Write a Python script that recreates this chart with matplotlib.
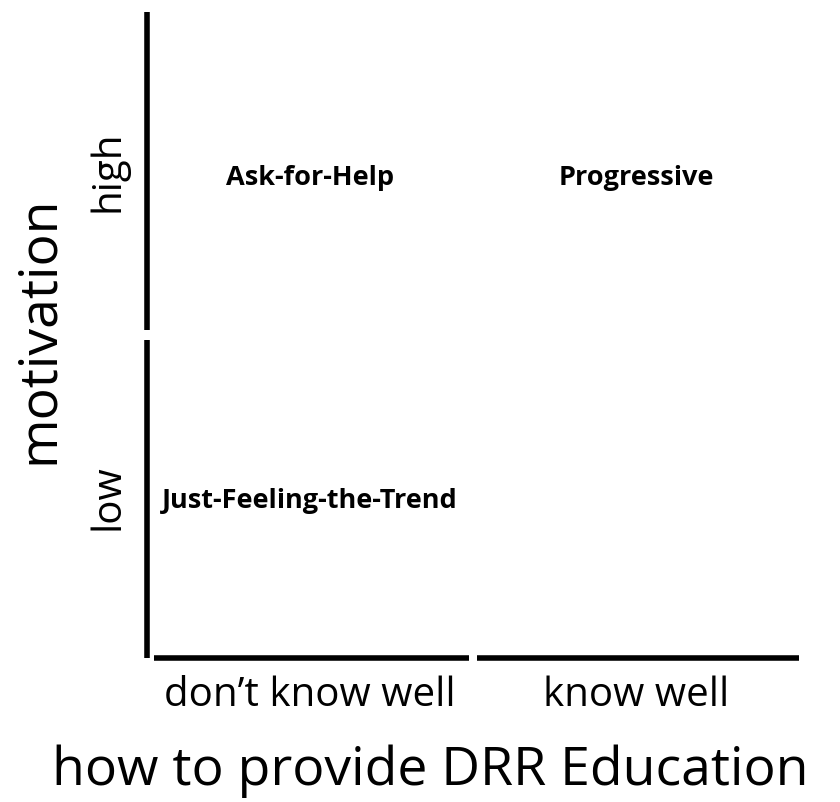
import matplotlib
matplotlib.use('Agg')
import matplotlib.pyplot as plt

plt.rcParams['font.family'] = ['Open Sans', 'DejaVu Sans']

# Achsen-Kategorien und Quadranten
x_cats = ["don\u2019t know well", "know well"]
y_cats = ["low", "high"]
x_title = "how to provide DRR Education"
y_title = "motivation"
quad_names = ["Ask-for-Help", "Progressive", "Just-Feeling-the-Trend"]
quad_col = [0, 1, 0]
quad_row = [1, 1, 0]

W, H = 840, 803
fig = plt.figure(figsize=(W / 100, H / 100), dpi=100)
# Achsenbox in Pixeln: links 147, rechts 799, oben 13, unten 659
ax = fig.add_axes([147 / W, 1 - 659 / H, 652 / W, 646 / H])
ax.set_xlim(0, 2)
ax.set_ylim(0, 2)
ax.axis('off')

lw = 4
gap_v = 0.034
gap_h = 0.025
x0 = 0.021
# linke Achse, zwei Stücke
ax.plot([0, 0], [0, 1 - gap_v / 2], color='black', lw=lw, solid_capstyle='butt', clip_on=False)
ax.plot([0, 0], [1 + gap_v / 2, 2], color='black', lw=lw, solid_capstyle='butt', clip_on=False)
# untere Achse, zwei Stücke
ax.plot([x0, 1 - gap_h / 2], [0, 0], color='black', lw=lw, solid_capstyle='butt', clip_on=False)
ax.plot([1 + gap_h / 2, 2], [0, 0], color='black', lw=lw, solid_capstyle='butt', clip_on=False)

for name, c, r in zip(quad_names, quad_col, quad_row):
    ax.text(c + 0.5, r + 0.49, name, ha='center', va='center',
            fontsize=19.5, fontweight='bold')

for i, lab in enumerate(x_cats):
    ax.text(i + 0.5, -0.05, lab, ha='center', va='top', fontsize=29)
for i, lab in enumerate(y_cats):
    ax.text(-0.12, i + 0.5 + 0.01 * i, lab, ha='center', va='center', fontsize=29,
            rotation=90)

ax.text(0.87, -0.265, x_title, ha='center', va='top', fontsize=38.5)
ax.text(-0.33, 1.02, y_title, ha='center', va='center', fontsize=38.5,
        rotation=90)

fig.savefig('out.png', dpi=100)
